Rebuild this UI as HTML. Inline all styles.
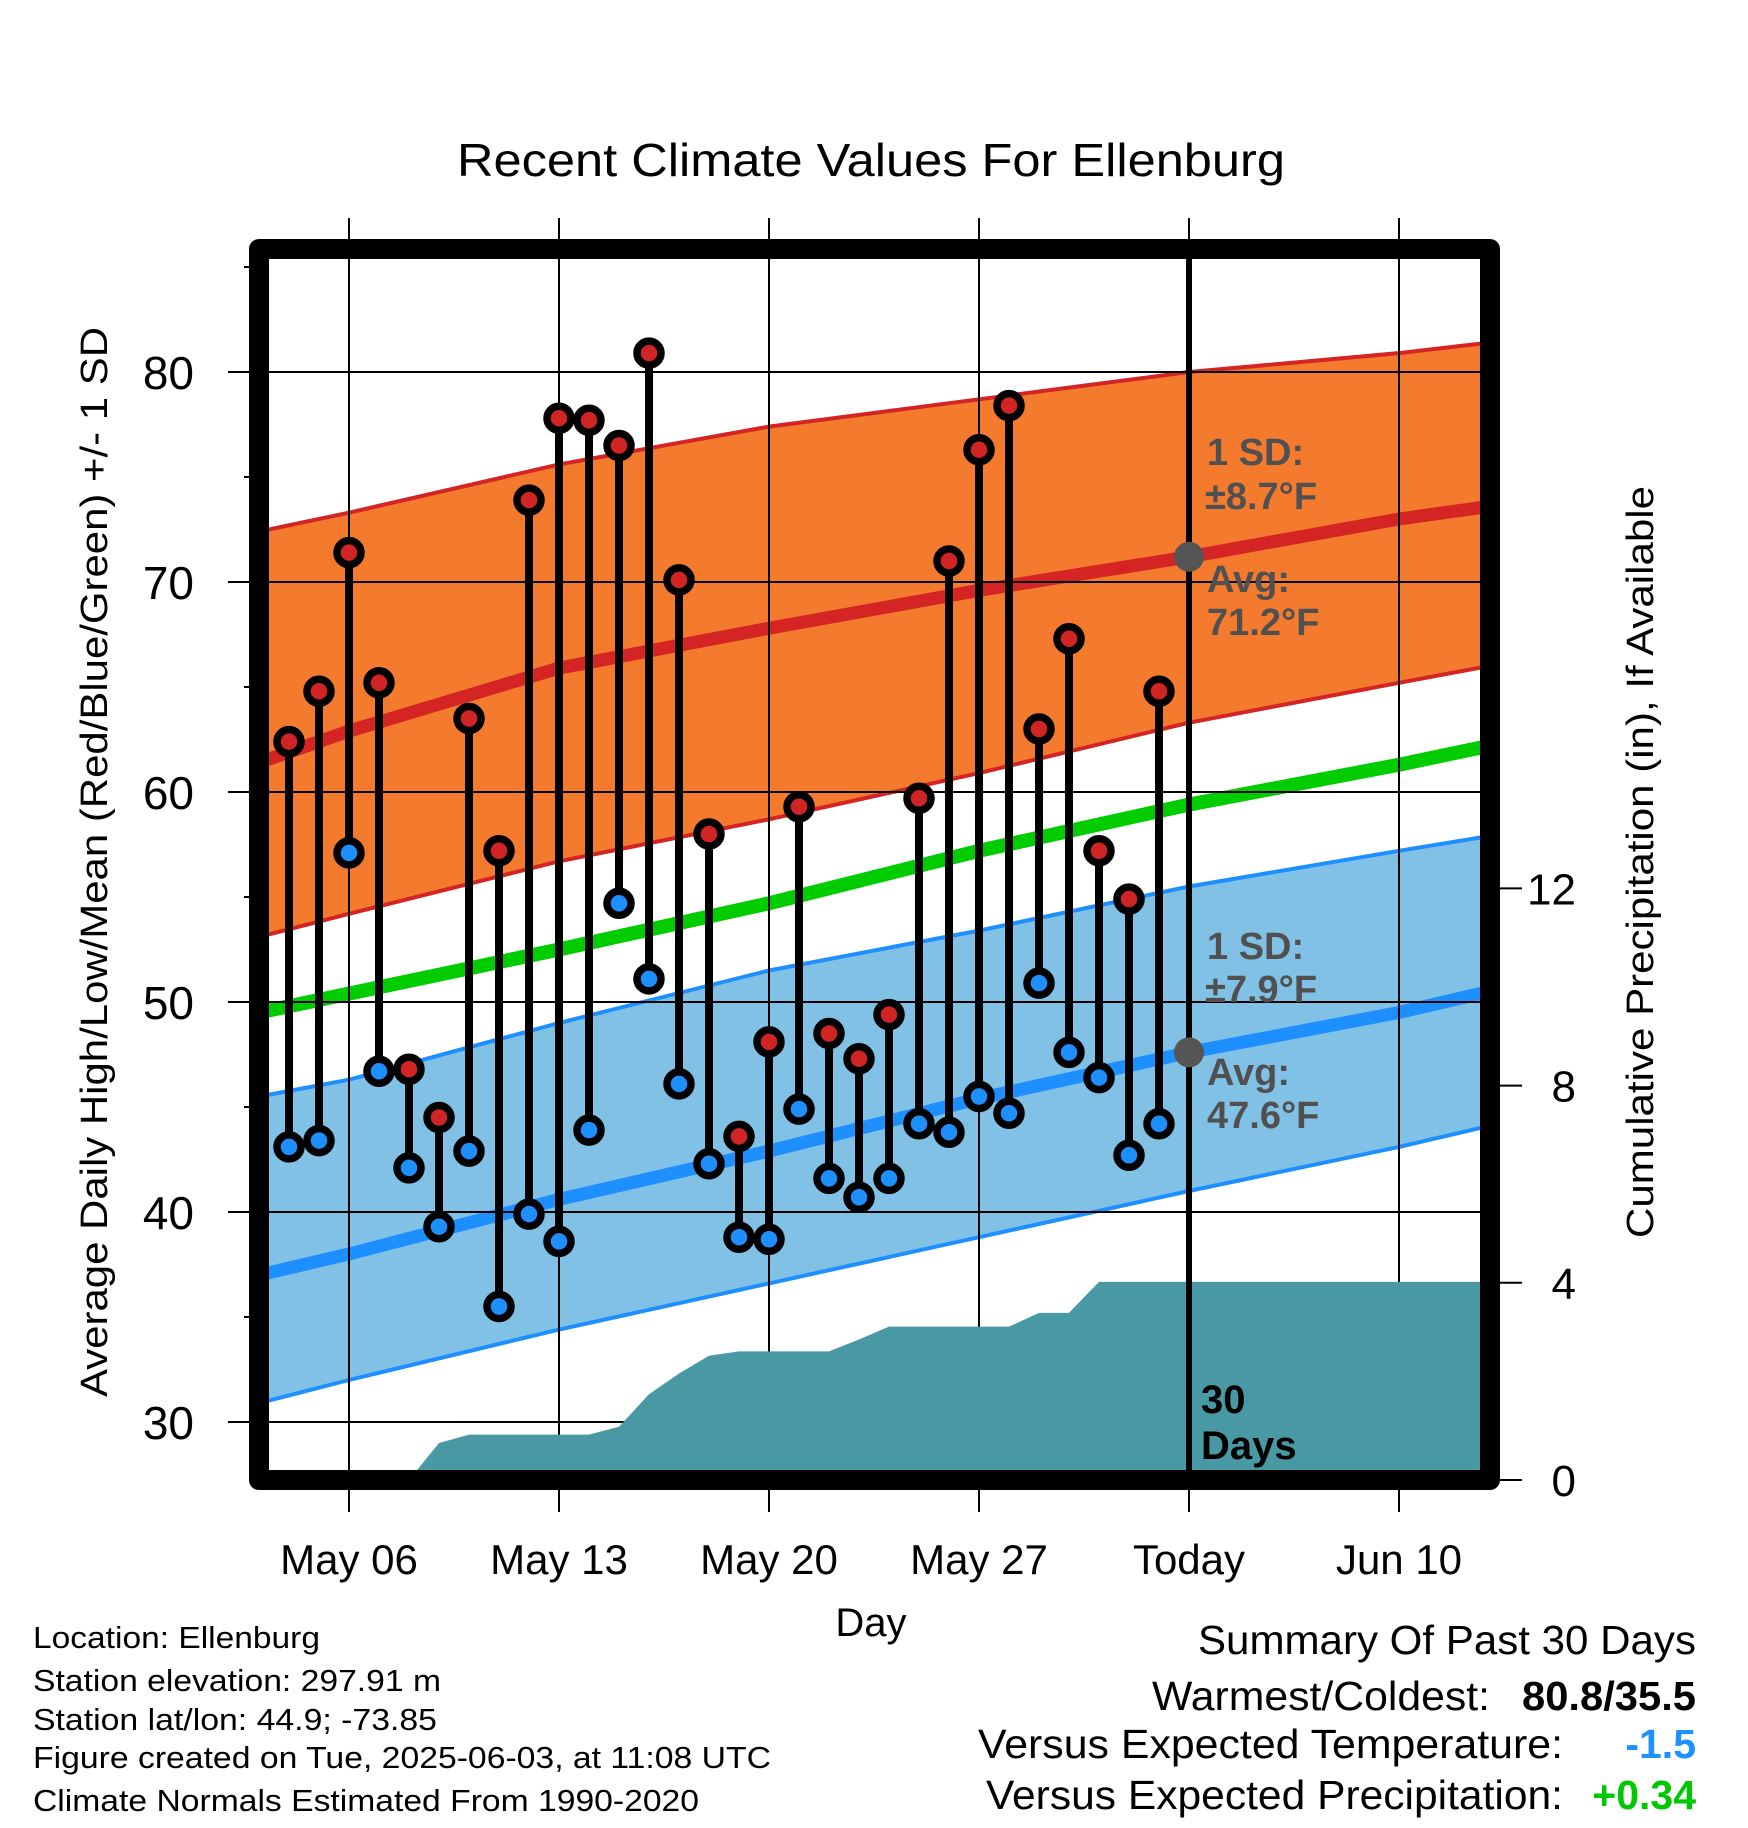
<!DOCTYPE html>
<html><head><meta charset="utf-8"><title>Recent Climate Values For Ellenburg</title>
<style>html,body{margin:0;padding:0;background:#fff}svg{display:block}text{font-family:"Liberation Sans",Arial,sans-serif}</style>
</head><body>
<svg id="chart" xmlns="http://www.w3.org/2000/svg" width="1748" height="1828" viewBox="0 0 1748 1828">
<defs><clipPath id="plotclip"><rect x="259" y="249" width="1231" height="1231"/></clipPath></defs>
<rect x="0" y="0" width="1748" height="1828" fill="#fff"/>
<text x="871" y="176" font-size="46" text-anchor="middle" textLength="828" lengthAdjust="spacingAndGlyphs">Recent Climate Values For Ellenburg</text>
<g id="bands" clip-path="url(#plotclip)"></g>
<g id="grid"></g>
<g id="precip" clip-path="url(#plotclip)"></g>
<line x1="1189" y1="259" x2="1189" y2="1475" stroke="#000" stroke-width="6"/>
<g id="marks"></g>
<g font-weight="bold" font-size="38" fill="#505050">
<text x="1207" y="465">1 SD:</text><text x="1205" y="509">±8.7°F</text>
<text x="1207" y="592">Avg:</text><text x="1207" y="635">71.2°F</text></g>
<g font-weight="bold" font-size="38" fill="#505050">
<text x="1207" y="959">1 SD:</text><text x="1205" y="1002">±7.9°F</text>
<text x="1207" y="1085">Avg:</text><text x="1207" y="1128">47.6°F</text></g>
<g font-weight="bold" font-size="40" fill="#000">
<text x="1201" y="1413">30</text><text x="1201" y="1459">Days</text></g>
<rect x="259" y="249" width="1231" height="1231" fill="none" stroke="#000" stroke-width="20" stroke-linejoin="round"/>
<g id="axes"></g>
<text transform="translate(107,862) rotate(-90)" font-size="38" text-anchor="middle" textLength="1070" lengthAdjust="spacingAndGlyphs">Average Daily High/Low/Mean (Red/Blue/Green) +/- 1 SD</text>
<text transform="translate(1653,862) rotate(-90)" font-size="38" text-anchor="middle" textLength="752" lengthAdjust="spacingAndGlyphs">Cumulative Precipitation (in), If Available</text>
<text x="871" y="1636" font-size="40" text-anchor="middle">Day</text>
<g font-size="31">
<text x="33" y="1648" textLength="287" lengthAdjust="spacingAndGlyphs">Location: Ellenburg</text>
<text x="33" y="1691" textLength="408" lengthAdjust="spacingAndGlyphs">Station elevation: 297.91 m</text>
<text x="33" y="1730" textLength="404" lengthAdjust="spacingAndGlyphs">Station lat/lon: 44.9; -73.85</text>
<text x="33" y="1768" textLength="738" lengthAdjust="spacingAndGlyphs">Figure created on Tue, 2025-06-03, at 11:08 UTC</text>
<text x="33" y="1811" textLength="666" lengthAdjust="spacingAndGlyphs">Climate Normals Estimated From 1990-2020</text></g>
<g font-size="41">
<text x="1696" y="1654" text-anchor="end" textLength="498" lengthAdjust="spacingAndGlyphs">Summary Of Past 30 Days</text>
<text x="1490" y="1710" text-anchor="end" textLength="338" lengthAdjust="spacingAndGlyphs">Warmest/Coldest:</text>
<text x="1696" y="1710" text-anchor="end" font-weight="bold" textLength="174" lengthAdjust="spacingAndGlyphs">80.8/35.5</text>
<text x="1563" y="1758" text-anchor="end" textLength="585" lengthAdjust="spacingAndGlyphs">Versus Expected Temperature:</text>
<text x="1696" y="1758" text-anchor="end" font-weight="bold" fill="#1e90ff">-1.5</text>
<text x="1563" y="1809" text-anchor="end" textLength="577" lengthAdjust="spacingAndGlyphs">Versus Expected Precipitation:</text>
<text x="1696" y="1809" text-anchor="end" font-weight="bold" fill="#00c800">+0.34</text></g>
</svg>
<script>
// day offsets are days after May 03
var normDays = [0, 3, 10, 17, 24, 31, 38, 41];
var hiAvg = [61.4, 62.9, 65.9, 67.8, 69.6, 71.2, 73.0, 73.6];
var hiUp  = [72.4, 73.3, 75.6, 77.4, 78.7, 80.0, 80.9, 81.4];
var hiLo  = [53.1, 54.2, 56.7, 58.7, 60.9, 63.3, 65.2, 66.0];
var meanAvg = [49.5, 50.4, 52.5, 54.7, 57.2, 59.4, 61.3, 62.2];
var loAvg = [37.0, 38.0, 40.6, 42.9, 45.4, 47.6, 49.5, 50.5];
var loUp  = [45.5, 46.3, 49.0, 51.5, 53.4, 55.5, 57.2, 57.9];
var loLo  = [30.9, 32.0, 34.4, 36.6, 38.8, 41.0, 43.1, 44.1];
var highs = [62.4,64.8,71.4,65.2,46.8,44.5,63.5,57.2,73.9,77.8,77.7,76.5,80.9,70.1,58.0,43.6,48.1,59.3,48.5,47.3,49.4,59.7,71.0,76.3,78.4,63.0,67.3,57.2,54.9,64.8];
var lows  = [43.1,43.4,57.1,46.7,42.1,39.3,42.9,35.5,39.9,38.6,43.9,54.7,51.1,46.1,42.3,38.8,38.7,44.9,41.6,40.7,41.6,44.2,43.8,45.5,44.7,50.9,47.6,46.4,42.7,44.2];
var firstDay = 1; // May 04
var precipCum = [0,0,0,0,0,0.75,0.92,0.92,0.92,0.92,0.92,1.08,1.74,2.16,2.52,2.61,2.61,2.61,2.61,2.85,3.11,3.11,3.11,3.11,3.11,3.39,3.39,4.02,4.02,4.02];
var xTickDays = [3, 10, 17, 24, 31, 38];
var xTickLabels = ["May 06", "May 13", "May 20", "May 27", "Today", "Jun 10"];
var yTicks = [30, 40, 50, 60, 70, 80];
var yMinor = [35, 45, 55, 65, 75, 85];
var y2Ticks = [0, 4, 8, 12];

var NS = "http://www.w3.org/2000/svg";
function xs(d) { return 259 + d * 30; }
function ys(t) { return 372 + (80 - t) * 21; }
function yp(p) { return 1480 - p * 49.3; }
function mk(tag, attrs, parent) {
  var e = document.createElementNS(NS, tag);
  for (var k in attrs) e.setAttribute(k, attrs[k]);
  parent.appendChild(e); return e;
}
function linePts(arr) { return normDays.map(function (d, i) { return xs(d) + "," + ys(arr[i]); }); }
function bandPts(up, lo) { return linePts(up).concat(linePts(lo).reverse()).join(" "); }

var bands = document.getElementById("bands");
var p;
p = mk("polygon", {points: bandPts(hiUp, hiLo), fill: "#f47a2e"}, bands);


p = mk("polygon", {points: bandPts(loUp, loLo), fill: "#82c1e6"}, bands);


var lines = [[hiUp, "#d42424", 4, "high-upper-edge"], [hiLo, "#d42424", 4, "high-lower-edge"],
  [loUp, "#1e8fff", 4, "low-upper-edge"], [loLo, "#1e8fff", 4, "low-lower-edge"],
  [hiAvg, "#d42424", 13, "high-average-line"], [meanAvg, "#00cc00", 14, "mean-average-line"], [loAvg, "#1e8fff", 13, "low-average-line"]];
lines.forEach(function (L) {
  var e = mk("polyline", {points: linePts(L[0]).join(" "), fill: "none", stroke: L[1], "stroke-width": L[2]}, bands);
  
  
});

var grid = document.getElementById("grid");
xTickDays.forEach(function (d) {
  var e = mk("line", {x1: xs(d), y1: 218, x2: xs(d), y2: 1512, stroke: "#000", "stroke-width": 2}, grid);
  
  
});
yTicks.forEach(function (t) {
  var e = mk("line", {x1: 228, y1: ys(t), x2: 1490, y2: ys(t), stroke: "#000", "stroke-width": 2}, grid);
  
  
});

var pr = document.getElementById("precip");
var pts = [];
pts.push(xs(firstDay) + "," + 1490);
precipCum.forEach(function (v, i) { pts.push(xs(firstDay + i) + "," + yp(v)); });
pts.push(xs(42) + "," + yp(precipCum[precipCum.length - 1]));
pts.push(xs(42) + "," + 1490);
p = mk("polygon", {points: pts.join(" "), fill: "#4899a3"}, pr);



var marks = document.getElementById("marks");
var tdot = mk("circle", {cx: xs(31), cy: ys(hiAvg[5]), r: 15, fill: "#555"}, marks);


tdot = mk("circle", {cx: xs(31), cy: ys(loAvg[5]), r: 15, fill: "#555"}, marks);


highs.forEach(function (h, i) {
  var x = xs(firstDay + i), l = lows[i];
  var s = mk("line", {x1: x, y1: ys(h), x2: x, y2: ys(l), stroke: "#000", "stroke-width": 8}, marks);
  
  
  [[h, "#d12424", "high-dot"], [l, "#1e8fff", "low-dot"]].forEach(function (q) {
    var c = mk("circle", {cx: x, cy: ys(q[0]), r: 12, fill: q[1], stroke: "#000", "stroke-width": 7.5}, marks);
    
    
  });
});

var axes = document.getElementById("axes");
yMinor.forEach(function (t) {
  var e = mk("line", {x1: 244, y1: ys(t), x2: 259, y2: ys(t), stroke: "#000", "stroke-width": 2}, axes);
  
  
});
yTicks.forEach(function (t) {
  var e = mk("text", {x: 194, y: ys(t) + 17, "font-size": 46, "text-anchor": "end"}, axes);
  e.textContent = String(t);
  
  
});
y2Ticks.forEach(function (v) {
  var e = mk("line", {x1: 1490, y1: yp(v), x2: 1522, y2: yp(v), stroke: "#000", "stroke-width": 2}, axes);
  
  
  var t = mk("text", {x: 1576, y: yp(v) + 16, "font-size": 44, "text-anchor": "end"}, axes);
  t.textContent = String(v);
  
  
});
xTickDays.forEach(function (d, i) {
  var e = mk("text", {x: xs(d), y: 1574, "font-size": 42, "text-anchor": "middle"}, axes);
  e.textContent = xTickLabels[i];
  
  
});
</script>
</body></html>
